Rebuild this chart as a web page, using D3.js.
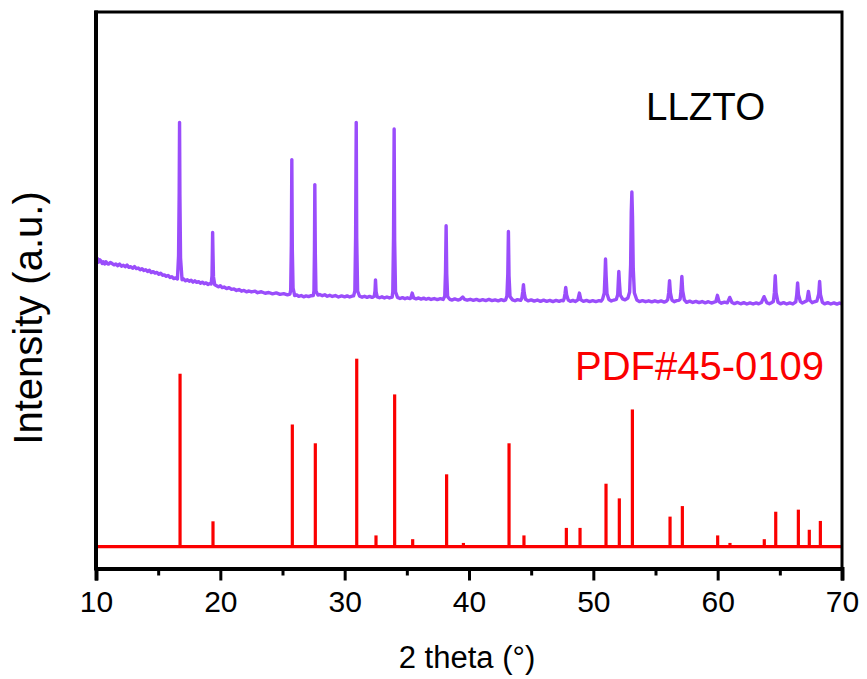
<!DOCTYPE html>
<html>
<head>
<meta charset="utf-8">
<script src="https://cdn.jsdelivr.net/npm/d3@7"></script>
<style>
  html, body { margin: 0; padding: 0; background: #ffffff; }
  svg { display: block; font-family: Arial, "Liberation Sans", sans-serif; }
</style>
</head>
<body>
<svg id="chart" width="867" height="679"></svg>
<script>
// Measured XRD pattern of the LLZTO powder: [2θ (°), intensity (a.u., stacked above the reference)]
const llztoTrace = [
  [10.0, 152.4], [10.1, 153.3], [10.2, 151.3], [10.3, 152.6], [10.4, 152.0], [10.5, 150.6], [10.6, 151.5],
  [10.7, 150.4], [10.8, 151.6], [10.9, 150.6], [11.0, 150.3], [11.15, 151.2], [11.3, 150.6], [11.45, 149.9],
  [11.6, 150.4], [11.75, 149.5], [11.9, 150.3], [12.05, 149.2], [12.2, 149.7], [12.35, 148.9], [12.5, 149.8],
  [12.65, 148.6], [12.8, 148.9], [12.95, 148.1], [13.1, 149.0], [13.25, 147.9], [13.4, 148.2], [13.55, 147.3],
  [13.7, 147.9], [13.85, 146.9], [14.0, 147.3], [14.15, 146.4], [14.3, 147.0], [14.45, 145.8], [14.6, 146.3],
  [14.75, 145.5], [14.9, 145.9], [15.05, 144.9], [15.2, 145.5], [15.35, 144.4], [15.5, 144.6], [15.65, 143.8],
  [15.8, 144.3], [15.95, 143.2], [16.1, 143.6], [16.25, 142.6], [16.4, 143.0],
  [16.55, 142.4], [16.64, 154.7], [16.69, 188.0], [16.72, 225.7], [16.75, 186.0], [16.80, 153.5], [16.92, 142.0],
  [17.05, 142.4], [17.2, 141.4], [17.35, 142.0], [17.5, 141.2], [17.65, 141.7], [17.8, 140.7], [17.95, 141.4],
  [18.1, 140.6], [18.25, 141.0], [18.4, 140.1], [18.55, 140.7], [18.7, 139.9], [18.85, 140.3], [19.0, 139.5], [19.15, 140.0],
  [19.26, 139.7], [19.33, 144.0], [19.36, 157.0], [19.38, 167.2], [19.41, 156.0], [19.45, 143.5], [19.55, 139.3],
  [19.7, 138.8], [19.85, 138.2], [20.0, 138.8], [20.15, 137.8], [20.3, 138.1], [20.5, 137.3], [20.7, 137.8],
  [20.9, 136.9], [21.1, 137.1], [21.3, 136.3], [21.5, 136.8], [21.7, 135.9], [21.9, 136.3], [22.1, 135.6],
  [22.3, 136.0], [22.5, 135.5], [22.8, 135.9], [23.0, 135.1], [23.3, 135.6], [23.6, 134.8], [23.9, 135.2],
  [24.2, 134.5], [24.5, 135.0], [24.8, 134.2], [25.1, 134.6], [25.4, 134.0], [25.6, 134.4],
  [25.66, 136.5], [25.71, 160.0], [25.75, 205.9], [25.79, 158.0], [25.85, 137.5], [25.98, 133.6],
  [26.15, 133.9], [26.3, 133.2], [26.5, 133.6], [26.7, 132.9], [26.9, 133.4], [27.1, 133.0], [27.3, 133.5], [27.48, 133.6],
  [27.53, 136.0], [27.57, 158.0], [27.60, 192.6], [27.64, 156.0], [27.69, 136.0], [27.85, 133.8],
  [28.0, 134.1], [28.2, 133.5], [28.4, 134.0], [28.6, 133.2], [28.8, 133.7], [29.0, 133.1], [29.25, 133.6],
  [29.5, 132.8], [29.75, 133.4], [30.0, 132.9], [30.2, 133.4], [30.4, 132.8], [30.6, 133.3], [30.72, 133.4],
  [30.82, 136.0], [30.88, 165.0], [30.93, 225.7], [30.97, 164.0], [31.04, 136.0], [31.2, 133.2],
  [31.4, 132.7], [31.6, 133.2], [31.8, 132.6], [32.0, 133.1], [32.2, 132.6], [32.3, 132.9],
  [32.38, 133.2], [32.44, 136.0], [32.48, 141.9], [32.53, 135.5], [32.62, 132.9],
  [32.8, 132.4], [33.0, 132.9], [33.2, 132.3], [33.4, 132.8], [33.6, 132.3], [33.82, 132.8],
  [33.87, 135.5], [33.93, 165.0], [33.98, 222.2], [34.02, 163.0], [34.09, 135.5], [34.25, 132.6],
  [34.45, 132.0], [34.65, 132.5], [34.85, 131.9], [35.05, 132.4], [35.25, 132.0],
  [35.33, 132.4], [35.43, 134.9], [35.55, 132.3],
  [35.75, 131.8], [35.95, 132.3], [36.15, 131.7], [36.35, 132.2], [36.55, 131.6], [36.75, 132.1],
  [36.95, 131.5], [37.2, 132.0], [37.45, 131.4], [37.7, 131.9], [37.92, 131.5],
  [38.05, 133.2], [38.11, 146.0], [38.16, 170.7], [38.21, 145.0], [38.28, 133.0], [38.45, 131.6],
  [38.65, 131.2], [38.85, 131.8], [39.1, 131.2], [39.3, 131.6], [39.5, 132.8], [39.65, 131.5],
  [39.85, 131.1], [40.1, 131.6], [40.35, 131.0], [40.6, 131.5], [40.85, 130.9], [41.1, 131.4], [41.35, 130.9],
  [41.6, 131.5], [41.85, 130.9], [42.1, 131.3], [42.35, 130.8], [42.6, 131.4], [42.8, 130.9], [42.95, 131.3],
  [43.05, 133.3], [43.12, 145.0], [43.17, 167.7], [43.22, 144.0], [43.30, 133.0], [43.5, 131.3],
  [43.7, 130.8], [43.9, 131.4], [44.15, 131.0],
  [44.25, 132.2], [44.32, 135.5], [44.38, 139.4], [44.44, 135.0], [44.55, 131.6],
  [44.75, 130.8], [45.0, 131.3], [45.25, 130.6], [45.5, 131.2], [45.75, 130.5], [46.0, 131.1], [46.25, 130.5],
  [46.5, 131.0], [46.75, 130.4], [47.0, 131.0], [47.25, 130.5], [47.45, 131.0], [47.58, 130.8],
  [47.65, 131.8], [47.72, 134.5], [47.78, 137.9], [47.85, 134.0], [47.98, 131.2],
  [48.15, 130.5], [48.35, 131.0], [48.55, 130.4], [48.68, 130.9],
  [48.76, 131.4], [48.88, 134.9], [49.0, 131.3],
  [49.2, 130.5], [49.45, 131.0], [49.7, 130.4], [49.95, 130.9], [50.2, 130.4], [50.45, 130.9], [50.62, 130.6],
  [50.75, 131.8], [50.88, 135.0], [50.94, 145.0], [50.98, 153.0], [51.03, 144.0], [51.10, 134.5], [51.25, 131.5],
  [51.45, 130.7], [51.65, 131.2],
  [51.85, 131.6], [51.96, 134.0], [52.01, 141.0], [52.05, 146.4], [52.10, 140.5], [52.17, 133.8], [52.35, 131.8],
  [52.55, 131.3], [52.78, 132.3],
  [52.92, 135.5], [53.00, 150.0], [53.05, 178.0], [53.10, 188.7], [53.15, 176.0], [53.21, 148.0], [53.30, 135.0], [53.5, 131.2],
  [53.7, 130.4], [53.95, 130.9], [54.2, 130.3], [54.45, 130.8], [54.7, 130.2], [54.95, 130.8], [55.2, 130.2],
  [55.45, 130.7], [55.7, 130.1], [55.88, 130.6],
  [55.98, 131.4], [56.06, 135.0], [56.13, 141.5], [56.20, 135.0], [56.32, 131.2],
  [56.5, 130.3], [56.7, 130.9], [56.88, 131.0],
  [56.98, 131.7], [57.05, 136.0], [57.12, 143.8], [57.19, 136.0], [57.32, 131.3],
  [57.5, 130.0], [57.75, 130.6], [58.0, 129.9], [58.25, 130.5], [58.5, 129.8], [58.75, 130.4], [59.0, 129.7],
  [59.25, 130.3], [59.5, 129.6], [59.72, 130.1],
  [59.85, 130.3], [59.98, 133.7], [60.12, 130.2],
  [60.3, 129.5], [60.55, 130.1], [60.78, 129.7], [60.97, 132.6], [61.15, 129.9],
  [61.35, 129.3], [61.6, 129.9], [61.85, 129.2], [62.1, 129.8], [62.35, 129.1], [62.6, 129.7], [62.85, 129.1],
  [63.1, 129.7], [63.3, 129.2], [63.52, 129.9],
  [63.73, 133.0], [63.95, 129.8],
  [64.15, 129.2], [64.32, 129.8], [64.48, 130.4],
  [64.56, 135.0], [64.63, 144.1], [64.70, 135.0], [64.85, 130.0],
  [65.05, 129.2], [65.3, 129.8], [65.55, 129.1], [65.8, 129.7], [66.05, 129.1], [66.28, 130.2],
  [66.36, 134.0], [66.43, 140.3], [66.50, 134.0], [66.65, 130.4],
  [66.8, 129.6], [66.98, 130.2], [67.18, 130.8], [67.30, 135.8], [67.42, 131.0], [67.6, 129.8],
  [67.78, 130.3], [67.98, 130.6],
  [68.13, 134.5], [68.20, 141.1], [68.27, 134.0], [68.42, 130.0],
  [68.6, 129.2], [68.85, 129.8], [69.1, 129.1], [69.35, 129.7], [69.6, 129.0], [69.8, 129.6], [70.0, 129.2]
];

// Reference card PDF#45-0109: line positions (2θ, °) and relative intensities (%)
const pdfPositions = [16.76, 19.41, 25.79, 27.64, 30.97, 32.52, 34.02, 35.47, 38.20, 39.55,
  43.22, 44.42, 47.83, 48.93, 51.02, 52.09, 53.14, 56.17, 57.16, 60.00,
  60.99, 63.75, 64.67, 66.49, 67.37, 68.26];
const pdfIntensities = [92, 13.5, 65, 55, 100, 6, 81, 4, 38.5, 2,
  55, 6, 10, 10, 33.5, 25.7, 73, 16, 21.6, 6,
  2, 4, 18.6, 19.7, 9, 13.7];

// Axis ticks and text
const xMajorTicks = [10, 20, 30, 40, 50, 60, 70];
const xMinorTicks = [15, 25, 35, 45, 55, 65];
const xDomain = [10, 70];
const yDomain = [-11.6, 284.4];
const sampleLabel = "LLZTO";
const cardLabel = "PDF#45-0109";
const xTitle = "2 theta (°)";
const yTitle = "Intensity (a.u.)";

const svg = d3.select("#chart");
const plot = { left: 96, right: 842, top: 12, bottom: 568.5 };

const x = d3.scaleLinear().domain(xDomain).range([plot.left, plot.right]);
const y = d3.scaleLinear().domain(yDomain).range([plot.bottom, plot.top]);

const purple = "#9a4dfb";
const red = "#fb0000";

// Reference stick pattern: baseline plus one vertical line per reflection
svg.append("line")
  .attr("x1", x(xDomain[0]) - 2).attr("x2", x(xDomain[1]))
  .attr("y1", y(0)).attr("y2", y(0))
  .attr("stroke", red).attr("stroke-width", 3.2);

svg.append("g").selectAll("line")
  .data(pdfPositions.map((p, i) => [p, pdfIntensities[i]]))
  .join("line")
  .attr("x1", d => x(d[0])).attr("x2", d => x(d[0]))
  .attr("y1", y(0)).attr("y2", d => y(d[1]))
  .attr("stroke", red).attr("stroke-width", 3.2);

// Measured pattern
const line = d3.line().x(d => x(d[0])).y(d => y(d[1]));
svg.append("path")
  .datum(llztoTrace)
  .attr("d", line)
  .attr("fill", "none")
  .attr("stroke", purple)
  .attr("stroke-width", 3.4)
  .attr("stroke-linejoin", "round");

// Frame
svg.append("rect")
  .attr("x", plot.left).attr("y", plot.top)
  .attr("width", plot.right - plot.left).attr("height", plot.bottom - plot.top)
  .attr("fill", "none").attr("stroke", "#000").attr("stroke-width", 3);
svg.append("line")
  .attr("x1", plot.left).attr("x2", plot.left)
  .attr("y1", plot.top - 1.5).attr("y2", plot.bottom + 2)
  .attr("stroke", "#000").attr("stroke-width", 4);

// Bottom axis: major ticks with labels, unlabeled minor ticks
const xAxis = d3.axisBottom(x).tickValues(xMajorTicks).tickSize(12).tickPadding(10)
  .tickFormat(d3.format("d"));
const gx = svg.append("g").attr("transform", `translate(0,${plot.bottom})`).call(xAxis);
gx.select(".domain").attr("stroke", "#000").attr("stroke-width", 4);
gx.selectAll(".tick line").attr("stroke", "#000").attr("stroke-width", 3);
gx.selectAll(".tick text").attr("font-size", 30).attr("font-family", "Arial, 'Liberation Sans', sans-serif").attr("fill", "#000");

const xMinor = d3.axisBottom(x).tickValues(xMinorTicks).tickSize(7).tickFormat("");
const gm = svg.append("g").attr("transform", `translate(0,${plot.bottom})`).call(xMinor);
gm.select(".domain").remove();
gm.selectAll(".tick line").attr("stroke", "#000").attr("stroke-width", 3);

// Titles
svg.append("text")
  .attr("x", (plot.left + plot.right) / 2 - 2).attr("y", 668)
  .attr("text-anchor", "middle").attr("font-size", 31).attr("fill", "#000")
  .text(xTitle);

svg.append("text")
  .attr("transform", `translate(42, 318) rotate(-90)`)
  .attr("text-anchor", "middle").attr("font-size", 40).attr("fill", "#000")
  .text(yTitle);

// Series labels
svg.append("text")
  .attr("x", 646).attr("y", 120)
  .attr("font-size", 38.5).attr("fill", "#000")
  .text(sampleLabel);

svg.append("text")
  .attr("x", 824).attr("y", 380)
  .attr("text-anchor", "end")
  .attr("font-size", 40).attr("fill", red)
  .text(cardLabel);
</script>
</body>
</html>
